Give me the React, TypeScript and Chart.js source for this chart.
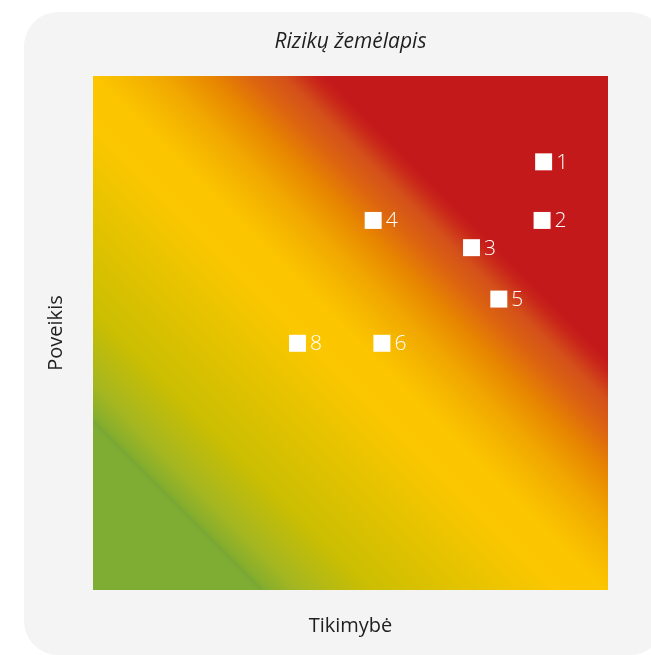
import React, { useEffect, useRef } from "react";
import { Chart, registerables } from "chart.js";

Chart.register(...registerables);

// Risk identifiers and their positions (likelihood, impact) on a 0–10 scale
const riskIds = ["1", "2", "3", "4", "5", "6", "8"];
const likelihood = [8.75, 8.72, 7.35, 5.44, 7.88, 5.61, 3.97];
const impact = [8.33, 7.19, 6.66, 7.19, 5.66, 4.8, 4.8];

const FONT = "'Open Sans', Lato, sans-serif";

// Diagonal heat gradient: green (low) -> yellow -> orange -> red (high)
const heatStops: [number, string][] = [
  [0, "#7fad33"],
  [0.158, "#7fad33"],
  [0.164, "#79a833"],
  [0.17, "#86ae2d"],
  [0.2, "#a4b621"],
  [0.27, "#cbbe02"],
  [0.35, "#e0c200"],
  [0.45, "#fbc700"],
  [0.5, "#fbc500"],
  [0.54, "#f5b400"],
  [0.57, "#f0a500"],
  [0.613, "#e88600"],
  [0.652, "#dc6410"],
  [0.684, "#d4501a"],
  [0.713, "#c8231a"],
  [0.725, "#c4191a"],
  [1, "#c4191a"],
];

const heatBackground = {
  id: "heatBackground",
  beforeDatasetsDraw(chart: any) {
    const { ctx, chartArea } = chart;
    const { left, right, top, bottom } = chartArea;
    const g = ctx.createLinearGradient(left, bottom, right, top);
    heatStops.forEach(([o, c]) => g.addColorStop(o, c));
    ctx.save();
    ctx.fillStyle = g;
    ctx.fillRect(left, top, right - left, bottom - top);
    ctx.restore();
  },
};

const pointLabels = {
  id: "pointLabels",
  afterDatasetsDraw(chart: any) {
    const { ctx } = chart;
    const meta = chart.getDatasetMeta(0);
    ctx.save();
    ctx.fillStyle = "#ffffff";
    ctx.font = `300 21px ${FONT}`;
    ctx.textAlign = "left";
    ctx.textBaseline = "middle";
    meta.data.forEach((pt: any, i: number) => {
      ctx.fillText(riskIds[i], pt.x + 12.5, pt.y + 1);
    });
    ctx.restore();
  },
};

export default function App() {
  const canvasRef = useRef<HTMLCanvasElement | null>(null);

  useEffect(() => {
    if (!canvasRef.current) return;
    const chart = new Chart(canvasRef.current, {
      type: "scatter",
      data: {
        datasets: [
          {
            data: likelihood.map((x, i) => ({ x, y: impact[i] })),
            pointStyle: "rect",
            pointRadius: 12,
            pointHoverRadius: 12,
            backgroundColor: "#ffffff",
            borderWidth: 0,
          },
        ],
      },
      options: {
        animation: false,
        responsive: true,
        maintainAspectRatio: false,
        layout: { padding: { left: 0, right: 56, top: 0, bottom: 0 } },
        plugins: {
          legend: { display: false },
          tooltip: { enabled: false },
          title: {
            display: true,
            text: "Rizikų žemėlapis",
            fullSize: false,
            color: "#1f1f1f",
            font: { family: FONT, size: 21, style: "italic", weight: "normal", lineHeight: 1.2 },
            padding: { top: 17.9, bottom: 20.9 },
          },
        },
        scales: {
          x: {
            min: 0,
            max: 10,
            grid: { display: false, drawTicks: false },
            border: { display: false },
            ticks: { display: false },
            title: {
              display: true,
              text: "Tikimybė",
              color: "#1f1f1f",
              font: { family: FONT, size: 20, weight: "normal", lineHeight: 1.2 },
              padding: { top: 24, bottom: 17 },
            },
          },
          y: {
            min: 0,
            max: 10,
            grid: { display: false, drawTicks: false },
            border: { display: false },
            ticks: { display: false },
            title: {
              display: true,
              text: "Poveikis",
              color: "#1f1f1f",
              font: { family: FONT, size: 20, weight: "normal", lineHeight: 1.2 },
              padding: { top: 20, bottom: 25 },
            },
          },
        },
      },
      plugins: [heatBackground, pointLabels],
    });
    return () => chart.destroy();
  }, []);

  return (
    <div
      style={{
        position: "fixed",
        left: 0,
        top: 0,
        width: 651,
        height: 655,
        overflow: "hidden",
        background: "#ffffff",
      }}
    >
      <div
        style={{
          position: "absolute",
          left: 24,
          top: 12,
          width: 640,
          height: 643,
          borderRadius: 34,
          background: "#f4f4f4",
        }}
      >
        <div style={{ position: "relative", width: 640, height: 643 }}>
          <canvas ref={canvasRef} />
        </div>
      </div>
    </div>
  );
}
